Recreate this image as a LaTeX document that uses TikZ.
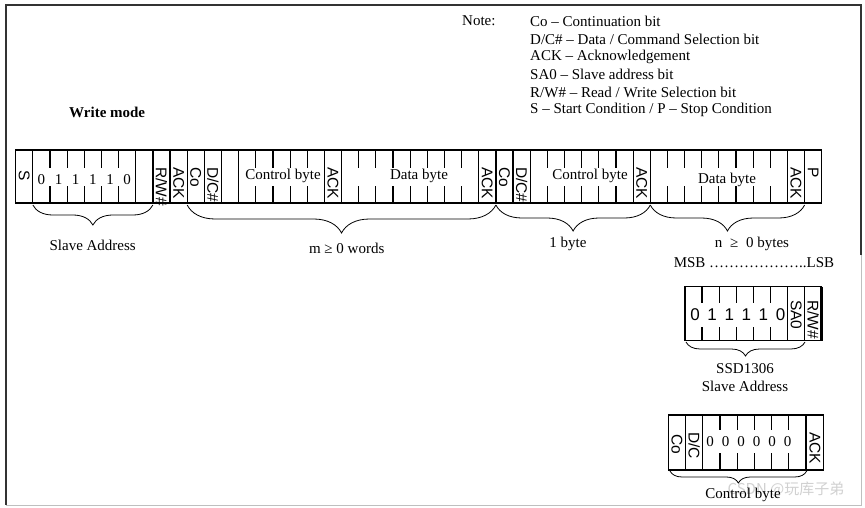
\documentclass[tikz,border=0pt]{standalone}
\usepackage{fontspec}
\setmainfont{Liberation Serif}
\newfontfamily\sansf{Liberation Sans}
\newfontfamily\cjkf{Noto Sans CJK SC}
\usetikzlibrary{decorations.pathreplacing}
\begin{document}
\begin{tikzpicture}[x=1pt,y=-1pt,
  txt/.style={inner sep=0pt, font=\fontsize{15}{18}\selectfont},
  vlab/.style={inner sep=0pt, rotate=-90, anchor=west, font=\sansf\fontsize{15.5}{18}\selectfont},
  cellline/.style={line width=1.2pt},
  brc/.style={decorate, decoration={brace, mirror, amplitude=#1}, line width=0.8pt},
]
\useasboundingbox (0,0) rectangle (865,508);
\fill[white] (0,0) rectangle (865,508);

% frame
\draw[line width=1.2pt, black!80] (861,255) -- (861,5) -- (6,5) -- (6,505);
\draw[line width=1pt, black!25] (861,255) -- (861,505) -- (6,505);

% watermark (behind)
\node[inner sep=0pt, text=black!18, font=\cjkf\fontsize{15}{18}\selectfont] (wmk) at (786,489) {CSDN @玩库子弟};

% note block
\node[txt, anchor=west] (note) at (462,21) {Note:};
\node[txt, anchor=west] (n1) at (530,21) {Co -- Continuation bit};
\node[txt, anchor=west] (n2) at (530,39) {D/C\# -- Data / Command Selection bit};
\node[txt, anchor=west] (n3) at (530,56.5) {ACK -- Acknowledgement};
\node[txt, anchor=west] (n4) at (530,74) {SA0 -- Slave address bit};
\node[txt, anchor=west] (n5) at (530,92) {R/W\# -- Read / Write Selection bit};
\node[txt, anchor=west] (n6) at (530,110) {S -- Start Condition / P -- Stop Condition};

\node[txt, anchor=west, font=\bfseries\fontsize{15}{18}\selectfont] (wm) at (69,112) {Write mode};

% main bar
\draw[cellline] (15.7,150) rectangle (821.75,203);
\foreach \i in {1,7,8,9,10,11,12,13,18,19,27,28,29,30,36,37,45,46}
  \draw[cellline] ({15.7+17.15*\i},150) -- ({15.7+17.15*\i},203);
\foreach \i in {2,3,4,5,6,14,15,16,17,20,21,22,23,24,25,26,31,32,33,34,35,38,39,40,41,42,43,44}
  \draw[cellline] ({15.7+17.15*\i},150) -- ({15.7+17.15*\i},168)
                  ({15.7+17.15*\i},186) -- ({15.7+17.15*\i},203);

\node[vlab] (s) at (24.3,170) {S};
\foreach \d [count=\k] in {0,1,1,1,1,0}
  \node[txt] (sa\k) at ({15.7+17.15*(\k+0.5)},180) {\d};
\foreach \i/\lab [count=\k] in {8/{R/W\#},9/ACK,10/Co,11/{D/C\#},18/ACK,27/ACK,28/Co,29/{D/C\#},36/ACK,45/ACK,46/P}
  \node[vlab] (v\k) at ({15.7+17.15*(\i+0.5)},167) {\lab};

\node[txt] (cb1) at (283,176) {Control byte};
\node[txt] (db1) at (419,176) {Data byte};
\node[txt] (cb2) at (590,176) {Control byte};
\node[txt] (db2) at (727,180) {Data byte};

% braces
\draw[brc=20] (32.85,205) -- (152.9,205);
\draw[brc=28] (187.2,205) -- (495.9,205);
\draw[brc=26] (495.9,205) -- (650.3,205);
\draw[brc=26] (650.3,205) -- (804.6,205);

\node[txt] (lsa) at (92.7,245) {Slave Address};
\node[txt] (lm) at (346.7,248) {m ≥ 0 words};
\node[txt] (l1) at (568,244) {1 byte};
\node[txt] (ln) at (752,244) {n\hspace{4pt} ≥\hspace{4pt} 0 bytes};

\node[txt] (msb) at (754,263) {MSB ………………..LSB};

% SSD1306 slave address box
\draw[cellline] (685,286.7) rectangle (821.7,340.7);
\draw[line width=3pt] (821.7,286.7) -- (821.7,340.7);
\foreach \k in {6,7}
  \draw[cellline] ({685+17.09*\k},286.7) -- ({685+17.09*\k},340.7);
\foreach \k in {1,...,5}
  \draw[cellline] ({685+17.09*\k},286.7) -- ({685+17.09*\k},303)
                  ({685+17.09*\k},327) -- ({685+17.09*\k},340.7);
\foreach \d [count=\k] in {0,1,1,1,1,0}
  \node[inner sep=0pt, font=\sansf\fontsize{17}{20}\selectfont] (ss\k) at ({685+17.09*(\k-0.5)+1.5},315) {\d};
\node[vlab] (sa0) at (796.1,300) {SA0};
\node[vlab] (srw) at (813.2,300) {R/W\#};
\draw[brc=14] (686,342) -- (805,342);
\node[txt] (ssd) at (745,368.3) {SSD1306};
\node[txt] (ssa) at (745,386.7) {Slave Address};

% control byte box
\draw[cellline] (668.3,415) rectangle (823.3,470);
\foreach \k in {1,2,8}
  \draw[cellline] ({668.3+17.22*\k},415) -- ({668.3+17.22*\k},470);
\foreach \k in {3,...,7}
  \draw[cellline] ({668.3+17.22*\k},415) -- ({668.3+17.22*\k},430)
                  ({668.3+17.22*\k},453) -- ({668.3+17.22*\k},470);
\foreach \j in {0,...,5}
  \node[txt] (cz\j) at ({710+15.5*\j},441.7) {0};
\node[vlab] (cco) at (676.9,434) {Co};
\node[vlab] (cdc) at (694.1,432) {D/C};
\node[vlab] (cack) at (814.9,432) {ACK};
\draw[brc=12] (670,471) -- (806.7,471);
\node[txt] (cbl) at (743,495) {Control byte};
\end{tikzpicture}
\end{document}
